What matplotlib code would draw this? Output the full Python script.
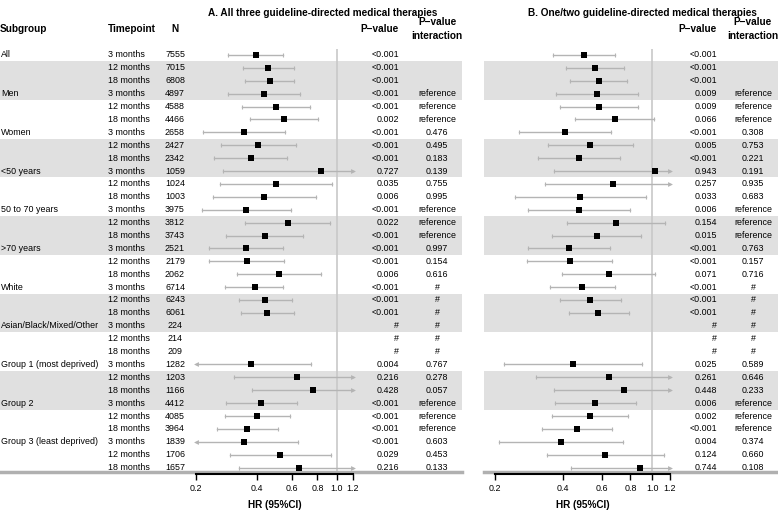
import matplotlib.pyplot as plt
from matplotlib.lines import Line2D
from matplotlib.patches import Rectangle
from matplotlib.ticker import NullLocator
from matplotlib.transforms import blended_transform_factory

plt.rcParams['font.family'] = ['Liberation Sans', 'DejaVu Sans']

subgroups = ['All', 'Men', 'Women', '<50 years', '50 to 70 years', '>70 years',
             'White', 'Asian/Black/Mixed/Other', 'Group 1 (most deprived)',
             'Group 2', 'Group 3 (least deprived)']
timepoints = ['3 months', '12 months', '18 months']
n_patients = [7555, 7015, 6808, 4897, 4588, 4466, 2658, 2427, 2342,
              1059, 1024, 1003, 3975, 3812, 3743, 2521, 2179, 2062,
              6714, 6243, 6061, 224, 214, 209, 1282, 1203, 1166,
              4412, 4085, 3964, 1839, 1706, 1657]

# A. all three GDMTs (None = not estimable)
hr_a = [0.395, 0.456, 0.463, 0.434, 0.497, 0.547, 0.346, 0.405, 0.373,
        0.832, 0.499, 0.437, 0.355, 0.569, 0.439, 0.355, 0.358, 0.517,
        0.390, 0.441, 0.452, None, None, None, 0.373, 0.634, 0.756,
        0.421, 0.403, 0.358, 0.345, 0.524, 0.645]
lower_a = [0.288, 0.342, 0.350, 0.288, 0.338, 0.369, 0.217, 0.266, 0.246,
           0.273, 0.263, 0.243, 0.213, 0.351, 0.283, 0.233, 0.233, 0.321,
           0.280, 0.326, 0.334, None, None, None, 0.187, 0.308, 0.380,
           0.281, 0.280, 0.255, 0.187, 0.294, 0.326]
upper_a = [0.538, 0.610, 0.614, 0.656, 0.734, 0.809, 0.553, 0.626, 0.563,
           2.54, 0.949, 0.786, 0.592, 0.924, 0.675, 0.538, 0.549, 0.832,
           0.542, 0.596, 0.614, None, None, None, 0.743, 1.30, 1.50,
           0.634, 0.587, 0.511, 0.638, 0.932, 1.275]
p_a = ['<0.001', '<0.001', '<0.001', '<0.001', '<0.001', '0.002',
       '<0.001', '<0.001', '<0.001', '0.727', '0.035', '0.006',
       '<0.001', '0.022', '<0.001', '<0.001', '<0.001', '0.006',
       '<0.001', '<0.001', '<0.001', '#', '#', '#',
       '0.004', '0.216', '0.428', '<0.001', '<0.001', '<0.001',
       '<0.001', '0.029', '0.216']
p_int_a = ['', '', '', 'reference', 'reference', 'reference',
           '0.476', '0.495', '0.183', '0.139', '0.755', '0.995',
           'reference', 'reference', 'reference', '0.997', '0.154', '0.616',
           '#', '#', '#', '#', '#', '#',
           '0.767', '0.278', '0.057', 'reference', 'reference', 'reference',
           '0.603', '0.453', '0.133']

# B. one/two GDMTs
hr_b = [0.497, 0.558, 0.578, 0.569, 0.583, 0.681, 0.411, 0.530, 0.475,
        1.027, 0.667, 0.479, 0.472, 0.691, 0.567, 0.426, 0.429, 0.641,
        0.487, 0.530, 0.577, None, None, None, 0.444, 0.645, 0.752,
        0.558, 0.530, 0.462, 0.394, 0.619, 0.882]
lower_b = [0.362, 0.415, 0.432, 0.375, 0.390, 0.455, 0.256, 0.344, 0.311,
           0.365, 0.335, 0.245, 0.279, 0.419, 0.360, 0.279, 0.278, 0.397,
           0.350, 0.390, 0.425, None, None, None, 0.219, 0.304, 0.366,
           0.368, 0.359, 0.322, 0.209, 0.341, 0.437]
upper_b = [0.681, 0.752, 0.772, 0.864, 0.869, 1.02, 0.656, 0.818, 0.722,
           2.89, 1.33, 0.937, 0.799, 1.137, 0.896, 0.650, 0.663, 1.031,
           0.684, 0.727, 0.785, None, None, None, 0.900, 1.37, 1.55,
           0.847, 0.783, 0.663, 0.744, 1.129, 1.78]
p_b = ['<0.001', '<0.001', '<0.001', '0.009', '0.009', '0.066',
       '<0.001', '0.005', '<0.001', '0.943', '0.257', '0.033',
       '0.006', '0.154', '0.015', '<0.001', '<0.001', '0.071',
       '<0.001', '<0.001', '<0.001', '#', '#', '#',
       '0.025', '0.261', '0.448', '0.006', '0.002', '<0.001',
       '0.004', '0.124', '0.744']
p_int_b = ['', '', '', 'reference', 'reference', 'reference',
           '0.308', '0.753', '0.221', '0.191', '0.935', '0.683',
           'reference', 'reference', 'reference', '0.763', '0.157', '0.716',
           '#', '#', '#', '#', '#', '#',
           '0.589', '0.646', '0.233', 'reference', 'reference', 'reference',
           '0.374', '0.660', '0.108']

grey_band_rows = [1, 7, 13, 19, 25]
hr_ticks = [0.2, 0.4, 0.6, 0.8, 1.0, 1.2]
x_min, x_max = 0.2, 1.2

W, H = 778, 515
TOP, BOTTOM = 48.5, 474.1  # pixel rows of the forest area
BAND = '#e0e0e0'
CI_COLOR = '#b4b4b4'
BODY = 6.4
HEAD = 7.2


def fx(px):
    return px / W


def fy(py):
    return 1 - py / H


fig = plt.figure(figsize=(W / 100, H / 100), dpi=100)


def make_axes(x0, x1):
    ax = fig.add_axes([fx(x0), fy(BOTTOM), fx(x1) - fx(x0), (BOTTOM - TOP) / H])
    ax.set_xscale('log')
    ax.set_xlim(x_min, x_max)
    ax.set_ylim(len(n_patients) - 0.5, -0.5)
    ax.patch.set_visible(False)
    for side in ('left', 'right', 'top'):
        ax.spines[side].set_visible(False)
    ax.spines['bottom'].set_linewidth(1.5)
    ax.spines['bottom'].set_zorder(5)
    ax.set_yticks([])
    ax.set_xticks(hr_ticks)
    ax.set_xticklabels([f'{t:.1f}' for t in hr_ticks])
    ax.xaxis.set_minor_locator(NullLocator())
    ax.tick_params(axis='x', length=4, width=1, labelsize=BODY, pad=3)
    ax.set_xlabel('HR (95%CI)', fontsize=HEAD, fontweight='bold', labelpad=5)
    ax.axvline(1.0, color='#c8c8c8', lw=1.2, zorder=1)
    return ax


def draw_bands(ax, x0, x1):
    trans = blended_transform_factory(fig.transFigure, ax.transData)
    for r in grey_band_rows:
        ax.add_patch(Rectangle((fx(x0), r - 0.5), fx(x1) - fx(x0), 3,
                               transform=trans, color=BAND, lw=0,
                               clip_on=False, zorder=0))
    ax.add_line(Line2D([fx(x0), fx(x1)], [32.3, 32.3], transform=trans,
                       color='#b0b0b0', lw=2.5, clip_on=False, zorder=1))


def draw_forest(ax, hr, lower, upper):
    for row, (h, lo, hi) in enumerate(zip(hr, lower, upper)):
        if h is None:
            continue
        lo_c, hi_c = max(lo, x_min), min(hi, x_max)
        ax.plot([lo_c, hi_c], [row, row], color=CI_COLOR, lw=1,
                clip_on=False, zorder=2)
        # clipped ends get an arrow, others a small cap
        for end, clipped, arrow in ((lo_c, lo < x_min, '<'),
                                    (hi_c, hi > x_max, '>')):
            if clipped:
                ax.plot(end, row, marker=arrow, ms=3.5, color=CI_COLOR,
                        mew=0, clip_on=False, zorder=2)
            else:
                ax.plot(end, row, marker='|', ms=3.5, mew=0.8,
                        color=CI_COLOR, clip_on=False, zorder=2)
        ax.plot(h, row, marker='s', ms=4.2, color='black', mew=0, zorder=3)


def row_text(ax, px, labels, ha):
    trans = blended_transform_factory(fig.transFigure, ax.transData)
    for row, label in enumerate(labels):
        fig.text(fx(px), row, label, transform=trans, ha=ha, va='center',
                 fontsize=BODY)


ax_a = make_axes(196, 353)
ax_b = make_axes(495, 670)
draw_bands(ax_a, 0, 462)
draw_bands(ax_b, 484, 778)
draw_forest(ax_a, hr_a, lower_a, upper_a)
draw_forest(ax_b, hr_b, lower_b, upper_b)

subgroup_col = []
for name in subgroups:
    subgroup_col += [name, '', '']
row_text(ax_a, 1, subgroup_col, 'left')
row_text(ax_a, 108, timepoints * len(subgroups), 'left')
row_text(ax_a, 175, [str(n) for n in n_patients], 'center')
row_text(ax_a, 399, p_a, 'right')
row_text(ax_a, 437, p_int_a, 'center')
row_text(ax_b, 717, p_b, 'right')
row_text(ax_b, 753, p_int_b, 'center')

head = dict(fontsize=HEAD, fontweight='bold', va='center')
fig.text(fx(323), fy(13), 'A. All three guideline-directed medical therapies',
         ha='center', **head)
fig.text(fx(642), fy(13), 'B. One/two guideline-directed medical therapies',
         ha='center', **head)
fig.text(fx(0), fy(29), 'Subgroup', ha='left', **head)
fig.text(fx(108), fy(29), 'Timepoint', ha='left', **head)
fig.text(fx(175), fy(29), 'N', ha='center', **head)
fig.text(fx(399), fy(29), 'P\u2212value', ha='right', **head)
fig.text(fx(437), fy(29), 'P\u2212value\ninteraction', ha='center',
         linespacing=1.4, **head)
fig.text(fx(717), fy(29), 'P\u2212value', ha='right', **head)
fig.text(fx(753), fy(29), 'P\u2212value\ninteraction', ha='center',
         linespacing=1.4, **head)

fig.savefig('out.png', dpi=100)
